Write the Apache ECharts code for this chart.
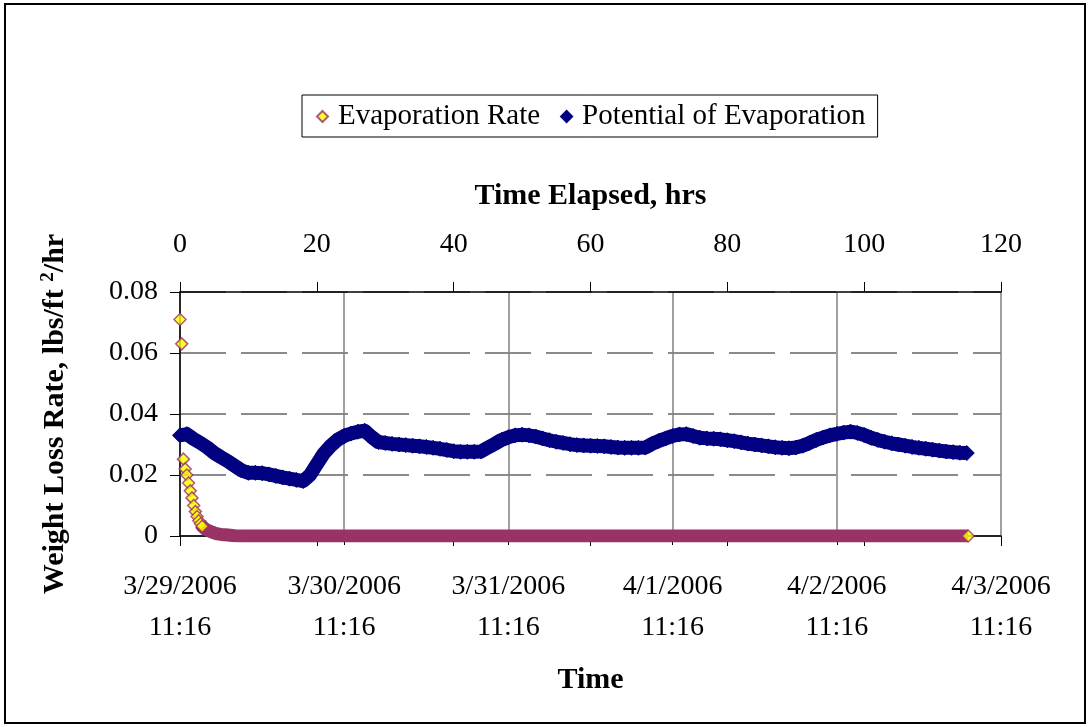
<!DOCTYPE html>
<html>
<head>
<meta charset="utf-8">
<script src="https://cdn.jsdelivr.net/npm/echarts@6/dist/echarts.min.js"></script>
<style>
html,body{margin:0;padding:0;background:#fff;}
#chart{width:1089px;height:727px;}
</style>
</head>
<body>
<div id="chart"></div>
<script>
// Evaporation rate readings (hours elapsed, lbs/ft^2/hr)
var rateHours  = [0, 0.25, 0.5, 0.75, 1.0, 1.25, 1.5, 1.75, 2.0, 2.25, 2.5, 2.75, 3.0, 3.25, 3.5, 3.75, 4.0, 4.5, 5.0, 5.5, 6.0, 7.0, 8.0, 9.0, 115.2];
var rateValues = [0.071, 0.063, 0.0252, 0.022, 0.0200, 0.0174, 0.0148, 0.0125, 0.0100, 0.0080, 0.0064, 0.0050, 0.0040, 0.0032, 0.0027, 0.0022, 0.0018, 0.0014, 0.0010, 0.0007, 0.0005, 0.0003, 0.0001, 0, 0];

// Potential of evaporation, hourly readings from hour 0 to hour 115
var potValues = [
  0.0330, 0.0334, 0.0318, 0.0305, 0.0290, 0.0272, 0.0258, 0.0245, 0.0230, 0.0215,
  0.0207, 0.0207, 0.0206, 0.0202, 0.0197, 0.0192, 0.0188, 0.0184, 0.0180, 0.0200,
  0.0235, 0.0270, 0.0295, 0.0315, 0.0328, 0.0336, 0.0342, 0.0345, 0.0325, 0.0308,
  0.0305, 0.0302, 0.0300, 0.0298, 0.0296, 0.0294, 0.0292, 0.0289, 0.0286, 0.0282,
  0.0278, 0.0276, 0.0276, 0.0276, 0.0277, 0.0290, 0.0302, 0.0315, 0.0324, 0.0330,
  0.0332, 0.0330, 0.0326, 0.0320, 0.0314, 0.0309, 0.0305, 0.0301, 0.0298, 0.0297,
  0.0296, 0.0295, 0.0294, 0.0292, 0.0290, 0.0289, 0.0289, 0.0289, 0.0290, 0.0302,
  0.0312, 0.0320, 0.0328, 0.0333, 0.0334, 0.0328, 0.0322, 0.0320, 0.0319, 0.0317,
  0.0314, 0.0311, 0.0307, 0.0303, 0.0300, 0.0297, 0.0294, 0.0291, 0.0289, 0.0288,
  0.0290, 0.0296, 0.0305, 0.0315, 0.0323, 0.0330, 0.0335, 0.0339, 0.0342, 0.0338,
  0.0331, 0.0322, 0.0315, 0.0309, 0.0304, 0.0300, 0.0296, 0.0292, 0.0289, 0.0286,
  0.0283, 0.0280, 0.0277, 0.0275, 0.0273, 0.0272
];

var dateLabels = ['3/29/2006\n11:16', '3/30/2006\n11:16', '3/31/2006\n11:16', '4/1/2006\n11:16', '4/2/2006\n11:16', '4/3/2006\n11:16'];
var elapsedTicks = [0, 20, 40, 60, 80, 100, 120];

var FONT = '"Liberation Serif", "Times New Roman", serif';
var MAROON = '#993366';
var NAVY = '#000080';

var ratePoints = rateHours.map(function (h, i) { return [h, rateValues[i]]; });
var lastHour = rateHours[rateHours.length - 1];
// early, well separated readings show their yellow markers; the dense tail merges into a band
var rateMarkers = ratePoints.filter(function (p) { return p[0] <= 3.25 || p[0] === lastHour; });
var bandPoints = ratePoints.filter(function (p) { return p[0] >= 3.0; });
var potPoints = potValues.map(function (v, i) { return [i, v]; });

var chart = echarts.init(document.getElementById('chart'));
chart.setOption({
  animation: false,
  backgroundColor: '#fff',
  textStyle: { fontFamily: FONT, color: '#000' },
  graphic: [{
    type: 'rect', silent: true, z: -10,
    shape: { x: 5, y: 4, width: 1080, height: 719 },
    style: { fill: null, stroke: '#000', lineWidth: 2 }
  }],
  legend: {
    data: ['Evaporation Rate', 'Potential of Evaporation'],
    left: 302, top: 95,
    icon: 'diamond',
    itemWidth: 11, itemHeight: 11, itemGap: 20,
    padding: [7, 12, 6, 14],
    borderColor: '#000', borderWidth: 1,
    textStyle: { fontFamily: FONT, fontSize: 29, color: '#000', padding: [0, 0, 0, 5] }
  },
  grid: { left: 180, right: 88, top: 292, bottom: 191, containLabel: false },
  xAxis: [{
    type: 'value', position: 'bottom', min: 0, max: 120, interval: 24,
    name: 'Time', nameLocation: 'middle', nameGap: 129,
    nameTextStyle: { fontFamily: FONT, fontSize: 30, fontWeight: 'bold', color: '#000' },
    axisLine: { show: true, onZero: false, lineStyle: { color: '#000', width: 1.5 } },
    axisTick: { show: true, inside: false, length: 9, lineStyle: { color: '#000' } },
    axisLabel: {
      fontFamily: FONT, fontSize: 28, color: '#000', margin: 30, lineHeight: 41,
      formatter: function (v) { return dateLabels[Math.round(v / 24)]; }
    },
    splitLine: { show: true, lineStyle: { color: '#808080', width: 1.5, type: 'solid' } }
  }, {
    type: 'value', position: 'top', min: 0, max: 120, interval: 20,
    name: 'Time Elapsed, hrs', nameLocation: 'middle', nameGap: 81,
    nameTextStyle: { fontFamily: FONT, fontSize: 30, fontWeight: 'bold', color: '#000' },
    axisLine: { show: true, onZero: false, lineStyle: { color: '#000', width: 1.5 } },
    axisTick: { show: true, inside: false, length: 10, lineStyle: { color: '#000' } },
    axisLabel: {
      fontFamily: FONT, fontSize: 28, color: '#000', margin: 33,
      formatter: function (v) { return elapsedTicks.indexOf(v) >= 0 ? String(v) : ''; }
    },
    splitLine: { show: false }
  }, {
    type: 'value', position: 'top', min: 0, max: 120, interval: 20,
    axisLine: { show: false },
    axisTick: { show: true, inside: true, length: 10, lineStyle: { color: '#000' } },
    axisLabel: { show: false },
    splitLine: { show: false }
  }],
  yAxis: {
    type: 'value', min: 0, max: 0.08, interval: 0.02,
    name: 'Weight Loss Rate, lbs/ft {sup|2}/hr', nameLocation: 'middle', nameGap: 108,
    nameRotate: 90,
    nameTextStyle: {
      fontFamily: FONT, fontSize: 30, fontWeight: 'bold', color: '#000',
      rich: { sup: { fontFamily: FONT, fontSize: 19, fontWeight: 'bold', color: '#000', verticalAlign: 'top', padding: [0, 0, 14, 0] } }
    },
    axisLine: { show: true, lineStyle: { color: '#000', width: 1.5 } },
    axisTick: { show: true, inside: false, length: 10, lineStyle: { color: '#000' } },
    axisLabel: {
      fontFamily: FONT, fontSize: 28, color: '#000', margin: 22,
      formatter: function (v) { return v === 0 ? '0' : v.toFixed(2); }
    },
    splitLine: { show: true, lineStyle: { color: '#666', width: 1.5, type: [46, 15] } }
  },
  series: [{
    name: 'rateBand', type: 'line', xAxisIndex: 0,
    data: bandPoints, symbol: 'none', silent: true,
    lineStyle: { color: MAROON, width: 13, cap: 'butt', join: 'round' }, z: 2
  }, {
    name: 'Potential of Evaporation', type: 'line', xAxisIndex: 0,
    data: potPoints, showAllSymbol: true, symbol: 'diamond', symbolSize: 15,
    itemStyle: { color: NAVY, borderColor: NAVY, borderWidth: 1 },
    lineStyle: { color: NAVY, width: 14, join: 'round' }, z: 3
  }, {
    name: 'Evaporation Rate', type: 'scatter', xAxisIndex: 0,
    data: rateMarkers, symbol: 'diamond', symbolSize: 12,
    itemStyle: { color: '#FFFF00', borderColor: MAROON, borderWidth: 1.5 }, z: 4
  }]
});
</script>
</body>
</html>
